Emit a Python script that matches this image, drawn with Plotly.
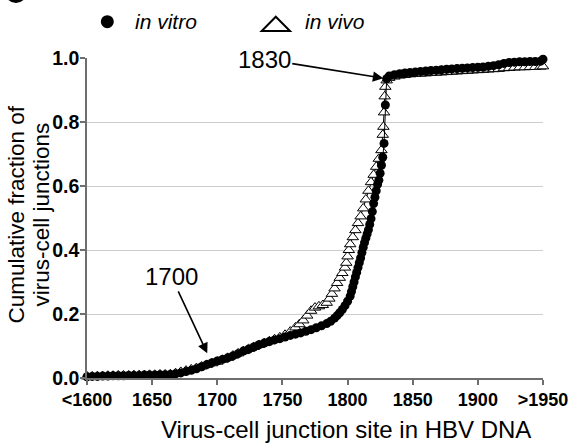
import plotly.graph_objects as go

# ---------------- data ----------------
vitro_x = [1600, 1604, 1608, 1612, 1616, 1620, 1624, 1628, 1632, 1636, 1640, 1644, 1648, 1652, 1656,
           1660, 1664, 1668, 1672, 1676, 1680, 1684, 1688, 1692, 1696, 1700, 1704, 1708, 1712, 1716,
           1720, 1724, 1728, 1732, 1736, 1740, 1744, 1748, 1752, 1756, 1760, 1764, 1768, 1772, 1776,
           1780, 1784, 1787, 1790, 1792, 1794, 1796, 1798, 1800, 1802, 1803, 1804, 1805, 1806, 1807,
           1808, 1809, 1810, 1811, 1812, 1813, 1814, 1815, 1816, 1817, 1818, 1819, 1820, 1821, 1822,
           1823, 1824, 1825, 1826, 1827, 1828, 1829, 1830, 1832, 1836, 1840, 1844, 1848, 1852, 1856,
           1860, 1864, 1868, 1872, 1876, 1880, 1884, 1888, 1892, 1896, 1900, 1904, 1908, 1912, 1916,
           1920, 1924, 1928, 1932, 1936, 1940, 1944, 1948, 1950]
vitro_y = [0.004, 0.005, 0.005, 0.006, 0.006, 0.007, 0.007, 0.007, 0.008, 0.008, 0.008, 0.009, 0.009, 0.009, 0.010,
           0.010, 0.011, 0.013, 0.016, 0.020, 0.024, 0.029, 0.035, 0.042, 0.048, 0.053, 0.058, 0.063, 0.069, 0.076,
           0.084, 0.090, 0.097, 0.104, 0.109, 0.114, 0.119, 0.123, 0.128, 0.133, 0.137, 0.141, 0.146, 0.151, 0.157,
           0.163, 0.170, 0.177, 0.187, 0.195, 0.204, 0.214, 0.226, 0.240, 0.256, 0.270, 0.285, 0.300, 0.316, 0.330,
           0.345, 0.360, 0.375, 0.392, 0.408, 0.423, 0.437, 0.450, 0.463, 0.480, 0.498, 0.520, 0.545, 0.565, 0.585,
           0.605, 0.618, 0.640, 0.665, 0.690, 0.733, 0.853, 0.935, 0.944, 0.948, 0.951, 0.953, 0.955, 0.956, 0.958,
           0.959, 0.961, 0.962, 0.963, 0.965, 0.966, 0.967, 0.968, 0.969, 0.970, 0.971, 0.972, 0.974, 0.976, 0.979,
           0.983, 0.986, 0.987, 0.988, 0.988, 0.989, 0.989, 0.990, 0.996]

vivo_x = [1600, 1604, 1608, 1612, 1616, 1620, 1624, 1628, 1632, 1636, 1640, 1644, 1648, 1652, 1656,
          1660, 1664, 1668, 1672, 1676, 1680, 1684, 1688, 1692, 1696, 1700, 1704, 1708, 1712, 1716,
          1720, 1724, 1728, 1732, 1736, 1740, 1744, 1748, 1752, 1756, 1760, 1763, 1766, 1769, 1772,
          1775, 1778, 1781, 1784, 1786, 1788, 1790, 1792, 1794, 1796, 1798, 1799, 1800, 1801, 1802,
          1804, 1806, 1808, 1810, 1812, 1814, 1816, 1818, 1820, 1822, 1824, 1826, 1827, 1827.5, 1828,
          1828.5, 1829, 1830, 1832, 1836, 1840, 1844, 1848, 1852, 1856, 1860, 1864, 1868, 1872, 1876,
          1880, 1884, 1888, 1892, 1896, 1900, 1904, 1908, 1912, 1916, 1920, 1924, 1928, 1932, 1936,
          1940, 1944, 1948, 1950]
vivo_y = [0.005, 0.005, 0.006, 0.006, 0.007, 0.007, 0.008, 0.008, 0.008, 0.009, 0.009, 0.009, 0.010, 0.010, 0.011,
          0.011, 0.012, 0.015, 0.019, 0.023, 0.027, 0.031, 0.036, 0.041, 0.046, 0.051, 0.057, 0.063, 0.070, 0.077,
          0.084, 0.091, 0.097, 0.103, 0.109, 0.115, 0.121, 0.127, 0.135, 0.145, 0.158, 0.168, 0.180, 0.195, 0.210,
          0.220, 0.224, 0.228, 0.235, 0.248, 0.263, 0.280, 0.297, 0.313, 0.328, 0.345, 0.360, 0.380, 0.400, 0.418,
          0.440, 0.462, 0.484, 0.505, 0.530, 0.558, 0.585, 0.612, 0.635, 0.660, 0.685, 0.712, 0.760, 0.785, 0.830,
          0.880, 0.910, 0.930, 0.938, 0.942, 0.945, 0.947, 0.949, 0.950, 0.951, 0.952, 0.953, 0.954, 0.955, 0.956,
          0.957, 0.958, 0.959, 0.960, 0.961, 0.962, 0.963, 0.964, 0.965, 0.966, 0.968, 0.969, 0.970, 0.971, 0.971,
          0.972, 0.972, 0.973, 0.974]

x_tickvals = [1600, 1650, 1700, 1750, 1800, 1850, 1900, 1950]
x_ticktext = ["<1600", "1650", "1700", "1750", "1800", "1850", "1900", ">1950"]
y_tickvals = [0.0, 0.2, 0.4, 0.6, 0.8, 1.0]
y_ticktext = ["0.0", "0.2", "0.4", "0.6", "0.8", "1.0"]

series_names = ["in vitro", "in vivo"]
y_title_lines = ["Cumulative fraction of", "virus-cell junctions"]
x_title = "Virus-cell junction site in HBV DNA"
callouts = [("1830", 1827.4, 0.937, -119, -19), ("1700", 1692.3, 0.077, -36, -77)]

FONT = "Liberation Sans, Arial, Helvetica, sans-serif"

fig = go.Figure()
fig.add_trace(go.Scatter(
    x=vivo_x, y=vivo_y, mode="lines+markers", name=series_names[1],
    line=dict(color="black", width=1),
    marker=dict(symbol="triangle-up", size=10, color="white", line=dict(color="black", width=1)),
    cliponaxis=False, showlegend=False))
fig.add_trace(go.Scatter(
    x=vitro_x, y=vitro_y, mode="lines+markers", name=series_names[0],
    line=dict(color="black", width=1),
    marker=dict(symbol="circle", size=9, color="black"),
    cliponaxis=False, showlegend=False))

annotations = []
for txt, tx, ty, ax, ay in callouts:
    annotations.append(dict(x=tx, y=ty, xref="x", yref="y", text=txt, showarrow=True,
                            ax=ax, ay=ay, arrowhead=2, arrowsize=1.3, arrowwidth=1.6,
                            arrowcolor="black", standoff=0,
                            font=dict(family=FONT, size=24, color="black")))

# legend texts
annotations.append(dict(x=0.1002, y=1.1125, xref="paper", yref="paper", text="<i>%s</i>" % series_names[0],
                        showarrow=False, xanchor="left", yanchor="middle",
                        font=dict(family=FONT, size=21, color="black")))
annotations.append(dict(x=0.4737, y=1.1125, xref="paper", yref="paper", text="<i>%s</i>" % series_names[1],
                        showarrow=False, xanchor="left", yanchor="middle",
                        font=dict(family=FONT, size=21, color="black")))
# axis titles
for line_text, px in zip(y_title_lines, [-0.1542, -0.0993]):
    annotations.append(dict(x=px, y=0.51, xref="paper", yref="paper",
                            text=line_text, textangle=-90,
                            showarrow=False, xanchor="center", yanchor="middle",
                            font=dict(family=FONT, size=22.5, color="black")))
annotations.append(dict(x=0.569, y=-0.16, xref="paper", yref="paper",
                        text=x_title,
                        showarrow=False, xanchor="center", yanchor="middle",
                        font=dict(family=FONT, size=24, color="black")))

shapes = [
    dict(type="circle", xref="paper", yref="paper", x0=0.0303, x1=0.0588, y0=1.0931, y1=1.1338,
         fillcolor="black", line=dict(color="black", width=0)),
    dict(type="path", xref="paper", yref="paper",
         path="M 0.3831 1.0844 L 0.4452 1.0844 L 0.4140 1.1291 Z",
         fillcolor="white", line=dict(color="black", width=2)),
    dict(type="circle", xref="paper", yref="paper", x0=-0.18, x1=-0.1316, y0=1.1719, y1=1.2406,
         fillcolor="black", line=dict(color="black", width=0)),
]

fig.update_layout(
    width=569, height=444,
    margin=dict(l=87, r=26, t=58, b=66, autoexpand=False),
    paper_bgcolor="white", plot_bgcolor="white",
    font=dict(family=FONT, color="black"),
    annotations=annotations, shapes=shapes,
    xaxis=dict(range=[1600, 1950], tickvals=x_tickvals, ticktext=x_ticktext, automargin=False,
               showgrid=False, zeroline=False, showline=True, linecolor="#6e6e6e", linewidth=1.5,
               ticks="outside", ticklen=5, tickwidth=1.5, tickcolor="#6e6e6e",
               tickfont=dict(family=FONT, size=18, color="black", weight="bold")),
    yaxis=dict(range=[0, 1], tickvals=y_tickvals, ticktext=y_ticktext, automargin=False,
               showgrid=True, gridcolor="#cccccc", gridwidth=1.2, zeroline=False,
               showline=True, linecolor="#6e6e6e", linewidth=1.5,
               ticks="outside", ticklen=5, tickwidth=1.5, tickcolor="#6e6e6e",
               ticklabelstandoff=-3,
               tickfont=dict(family=FONT, size=19.5, color="black", weight="bold")),
)

fig.write_html("out.html")
